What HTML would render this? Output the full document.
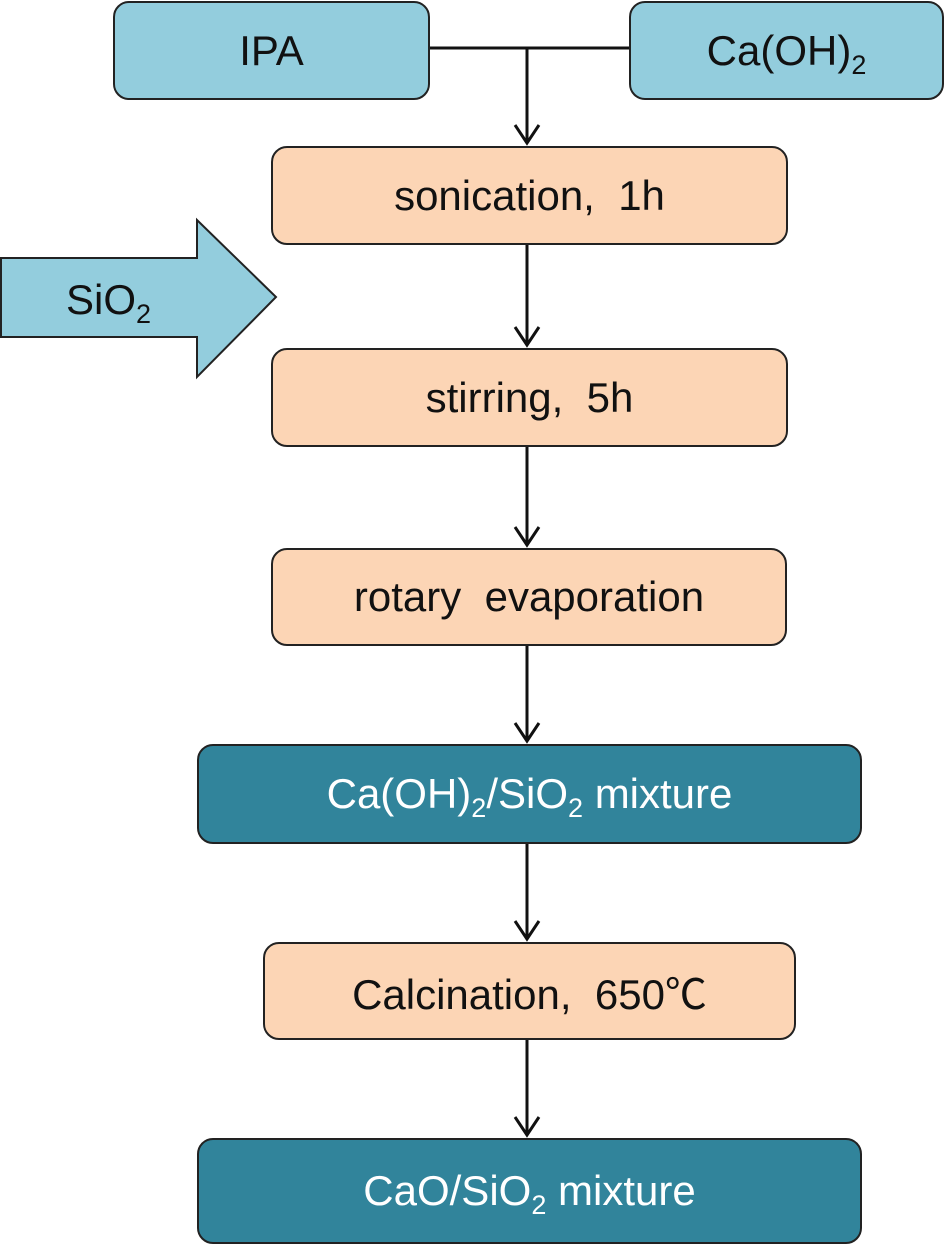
<!DOCTYPE html>
<html><head><meta charset="utf-8"><style>
body{margin:0;width:945px;height:1246px;background:#fff;position:relative;overflow:hidden;font-family:"Liberation Sans","Noto Sans CJK KR",sans-serif}
.b{position:absolute;box-sizing:border-box;border:2px solid #222;border-radius:16px;display:flex;align-items:center;justify-content:center;font-size:42px;color:#111;white-space:pre}
.b span{display:inline-block}
.bl{background:#93cddd}.pe{background:#fcd5b5}.tl{background:#31849b;color:#fff}
sub{font-size:27px;vertical-align:-9px;line-height:0}
</style></head><body>
<svg width="945" height="1246" style="position:absolute;left:0;top:0">
<g stroke="#111" stroke-width="3" fill="none">
<line x1="430" y1="48" x2="629" y2="48"/>
<line x1="527" y1="48" x2="527" y2="143"/>
<polyline points="515,125 527,143 539,125"/>
<line x1="527" y1="245" x2="527" y2="345"/>
<polyline points="515,327 527,345 539,327"/>
<line x1="527" y1="447" x2="527" y2="545"/>
<polyline points="515,527 527,545 539,527"/>
<line x1="527" y1="646" x2="527" y2="741"/>
<polyline points="515,723 527,741 539,723"/>
<line x1="527" y1="844" x2="527" y2="939"/>
<polyline points="515,921 527,939 539,921"/>
<line x1="527" y1="1040" x2="527" y2="1135"/>
<polyline points="515,1117 527,1135 539,1117"/>
</g>
<polygon points="1,258 197,258 197,220 276,297 197,377 197,337 1,337" fill="#93cddd" stroke="#222" stroke-width="2"/>
<text x="66" y="314" font-size="42" fill="#111" font-family="Liberation Sans,sans-serif">SiO<tspan font-size="27" dy="9">2</tspan></text>
</svg>
<div class="b bl" style="left:113px;top:1px;width:317px;height:99px"><span>IPA</span></div>
<div class="b bl" style="left:629px;top:1px;width:315px;height:99px"><span>Ca(OH)<sub>2</sub></span></div>
<div class="b pe" style="left:271px;top:146px;width:517px;height:99px"><span>sonication,  1h</span></div>
<div class="b pe" style="left:271px;top:348px;width:517px;height:99px"><span>stirring,  5h</span></div>
<div class="b pe" style="left:271px;top:548px;width:516px;height:98px"><span>rotary  evaporation</span></div>
<div class="b tl" style="left:197px;top:744px;width:665px;height:100px"><span>Ca(OH)<sub>2</sub>/SiO<sub>2</sub> mixture</span></div>
<div class="b pe" style="left:263px;top:942px;width:533px;height:98px"><span>Calcination,  650℃</span></div>
<div class="b tl" style="left:197px;top:1138px;width:665px;height:106px"><span>CaO/SiO<sub>2</sub> mixture</span></div>
</body></html>
